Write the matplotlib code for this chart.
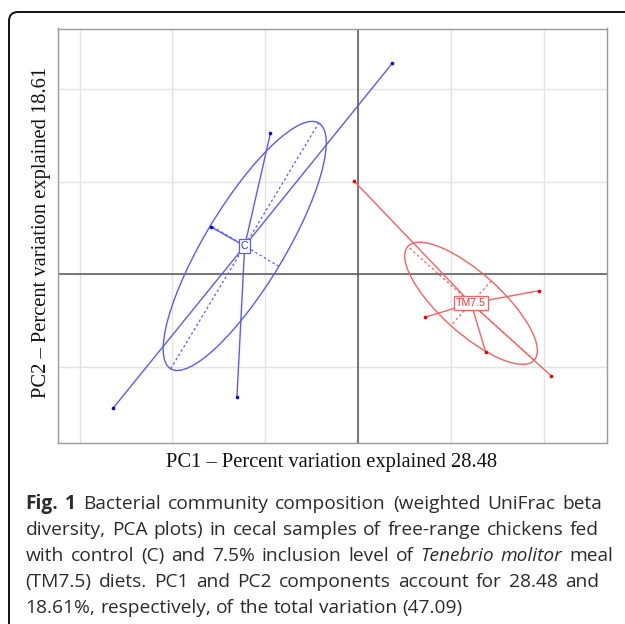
import matplotlib.pyplot as plt
import matplotlib.patches as mp
from matplotlib.transforms import IdentityTransform
import numpy as np

W, H = 625, 624

# sample scores on PC1 / PC2
C_pc1 = [0.0369, -0.0945, -0.1584, -0.1305, -0.2641]
C_pc2 = [0.228, 0.152, 0.051, -0.1331, -0.145]
TM_pc1 = [-0.0047, 0.1953, 0.0721, 0.1374, 0.2078]
TM_pc2 = [0.101, -0.0177, -0.0464, -0.0841, -0.1097]
groups = ["C", "TM7.5"]

x_ticks = [-0.3, -0.2, -0.1, 0.0, 0.1, 0.2]
y_ticks = [-0.1, 0.0, 0.1, 0.2]

xlabel = "PC1 \u2013 Percent variation explained 28.48"
ylabel = "PC2 \u2013 Percent variation explained 18.61"

BLUE_LN, BLUE_PT = "#5b5bf7", "#0000ee"
RED_LN, RED_PT = "#f46262", "#ee0000"
ELL_K = 0.9

fig = plt.figure(figsize=(W / 100, H / 100), dpi=100)
fig.patch.set_facecolor("white")

# rounded frame around the figure panel
frame = mp.FancyBboxPatch((9, 0 - 40), W + 40, H - 12 + 40,
                          boxstyle="round,pad=0,rounding_size=9",
                          transform=IdentityTransform(), facecolor="none",
                          edgecolor="#111111", linewidth=1.4, zorder=0)
fig.patches.append(frame)

ax = fig.add_axes([57.5 / W, (H - 443) / H, 549.5 / W, 414.5 / H])
ax.set_xlim(-0.3237, 0.268)
ax.set_ylim(-0.1823, 0.2654)
ax.set_xticks(x_ticks)
ax.set_yticks(y_ticks)
ax.tick_params(length=0, labelbottom=False, labelleft=False)
ax.grid(True, color="#e3e3e3", lw=1.0)
ax.set_axisbelow(True)
for s in ax.spines.values():
    s.set_color("#9a9a9a")
    s.set_linewidth(1.0)
ax.axhline(0, color="#555555", lw=1.1, zorder=1)
ax.axvline(0, color="#555555", lw=1.1, zorder=1)


def draw_group(xs, ys, name, lc, pc):
    xs = np.asarray(xs); ys = np.asarray(ys)
    cx, cy = xs.mean(), ys.mean()
    cov = np.cov(np.vstack([xs, ys]), bias=True)
    vals, vecs = np.linalg.eigh(cov)
    order = vals.argsort()[::-1]
    vals, vecs = vals[order], vecs[:, order]
    a, b = ELL_K * np.sqrt(vals)
    ang = np.degrees(np.arctan2(vecs[1, 0], vecs[0, 0]))
    ax.add_patch(mp.Ellipse((cx, cy), 2 * a, 2 * b, angle=ang, fill=False,
                            edgecolor=lc, lw=1.0, zorder=3))
    for r, v in ((a, vecs[:, 0]), (b, vecs[:, 1])):
        ax.plot([cx - r * v[0], cx + r * v[0]], [cy - r * v[1], cy + r * v[1]],
                color=lc, lw=0.9, ls=(0, (2, 2)), zorder=3)
    for x, y in zip(xs, ys):
        ax.plot([cx, x], [cy, y], color=lc, lw=1.0, zorder=4)
    ax.plot(xs, ys, "o", color=pc, ms=2.6, mew=0, zorder=5)
    ax.text(cx, cy, name, ha="center", va="center", fontsize=7.6, color=pc,
            family="Liberation Sans", zorder=6, alpha=0.8,
            bbox=dict(boxstyle="square,pad=0.18", fc="white", ec=lc, lw=0.9))


draw_group(C_pc1, C_pc2, groups[0], BLUE_LN, BLUE_PT)
draw_group(TM_pc1, TM_pc2, groups[1], RED_LN, RED_PT)

fig.text(332 / W, 1 - 463 / H, xlabel, ha="center", va="center",
         family="Liberation Serif", fontsize=14.8, color="#111111")
fig.text(42 / W, 1 - 232 / H, ylabel, ha="center", va="center", rotation=90,
         family="Liberation Serif", fontsize=14.8, color="#111111")

# caption, justified word by word
cap_lines = [
    [("Fig. 1", "bold", "normal"), ("Bacterial community composition (weighted UniFrac beta", "normal", "normal")],
    [("diversity, PCA plots) in cecal samples of free-range chickens fed", "normal", "normal")],
    [("with control (C) and 7.5% inclusion level of", "normal", "normal"),
     ("Tenebrio molitor", "normal", "italic"), ("meal", "normal", "normal")],
    [("(TM7.5) diets. PC1 and PC2 components account for 28.48 and", "normal", "normal")],
    [("18.61%, respectively, of the total variation (47.09)", "normal", "normal")],
]
right_edges = [602, 599, 613, 599, None]
x0 = 25.5
base0, lead = 509.0, 26.0
cap_col = "#2b2b2b"
renderer = fig.canvas.get_renderer()

# font size fitted to the natural width of the last line
probe = fig.text(0, 0, cap_lines[4][0][0], family="Open Sans", fontsize=10)
w10 = probe.get_window_extent(renderer).width
probe.remove()
cap_fs = 10 * 436 / w10

for i, segs in enumerate(cap_lines):
    words = []
    for txt, wt, st in segs:
        for wd in txt.split(" "):
            words.append((wd, wt, st))
    arts = []
    for wd, wt, st in words:
        t = fig.text(0, 0, wd, family="Open Sans", fontsize=cap_fs, weight=wt,
                     style=st, color=cap_col, transform=IdentityTransform(),
                     va="baseline", ha="left")
        arts.append(t)
    widths = [t.get_window_extent(renderer).width for t in arts]
    if right_edges[i] is None:
        sp = fig.text(0, 0, "a a", family="Open Sans", fontsize=cap_fs)
        sa = fig.text(0, 0, "aa", family="Open Sans", fontsize=cap_fs)
        gap = sp.get_window_extent(renderer).width - sa.get_window_extent(renderer).width
        sp.remove(); sa.remove()
    else:
        gap = (right_edges[i] - x0 - sum(widths)) / (len(words) - 1)
    x = x0
    yb = H - (base0 + lead * i)
    for t, w in zip(arts, widths):
        t.set_position((x, yb))
        x += w + gap

fig.savefig("out.png", dpi=100, facecolor="white")
